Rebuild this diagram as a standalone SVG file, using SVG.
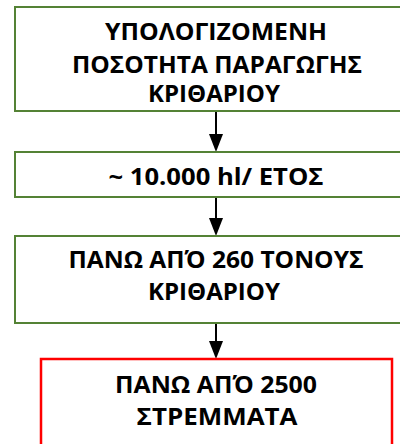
<svg xmlns="http://www.w3.org/2000/svg" width="400" height="444" viewBox="0 0 400 444">
<style>
.g{fill:#fff;stroke:#548235;stroke-width:2}
.r{fill:#fff;stroke:#ff0000;stroke-width:2.5}
.t{font-family:"Open Sans","Noto Sans","DejaVu Sans",sans-serif;font-weight:bold;font-size:23px;fill:#000;text-anchor:middle}
.c{stroke:#000;stroke-width:2;fill:none}
</style>
<rect width="400" height="444" fill="#fff"/>
<g id="connectors">
<line class="c" x1="216" y1="112" x2="216" y2="134"/>
<path d="M209,134 L223,134 L216,152 Z" fill="#000"/>
<line class="c" x1="216" y1="197" x2="216" y2="218"/>
<path d="M209,218 L223,218 L216,236 Z" fill="#000"/>
<line class="c" x1="216" y1="323" x2="216" y2="341"/>
<path d="M209,341 L223,341 L216,359 Z" fill="#000"/>
</g>
<g id="node1">
<rect class="g" x="15" y="7" width="402" height="104"/>
<text class="t" x="216" y="40" textLength="222" lengthAdjust="spacingAndGlyphs">ΥΠΟΛΟΓΙΖΟΜΕΝΗ</text>
<text class="t" x="217" y="73" textLength="290" lengthAdjust="spacingAndGlyphs">ΠΟΣΟΤΗΤΑ ΠΑΡΑΓΩΓΗΣ</text>
<text class="t" x="214" y="102" textLength="132" lengthAdjust="spacingAndGlyphs">ΚΡΙΘΑΡΙΟΥ</text>
</g>
<g id="node2">
<rect class="g" x="15" y="152" width="402" height="45"/>
<text class="t" x="216" y="185" textLength="215" lengthAdjust="spacingAndGlyphs">~ 10.000 hl/ ΕΤΟΣ</text>
</g>
<g id="node3">
<rect class="g" x="15" y="236" width="402" height="87"/>
<text class="t" x="216" y="268" textLength="295" lengthAdjust="spacingAndGlyphs">ΠΑΝΩ ΑΠΌ 260 ΤΟΝΟΥΣ</text>
<text class="t" x="214" y="300" textLength="132" lengthAdjust="spacingAndGlyphs">ΚΡΙΘΑΡΙΟΥ</text>
</g>
<g id="node4">
<rect class="r" x="41" y="359" width="351" height="100"/>
<text class="t" x="216" y="393" textLength="202" lengthAdjust="spacingAndGlyphs">ΠΑΝΩ ΑΠΌ 2500</text>
<text class="t" x="217" y="425" textLength="161" lengthAdjust="spacingAndGlyphs">ΣΤΡΕΜΜΑΤΑ</text>
</g>
</svg>
